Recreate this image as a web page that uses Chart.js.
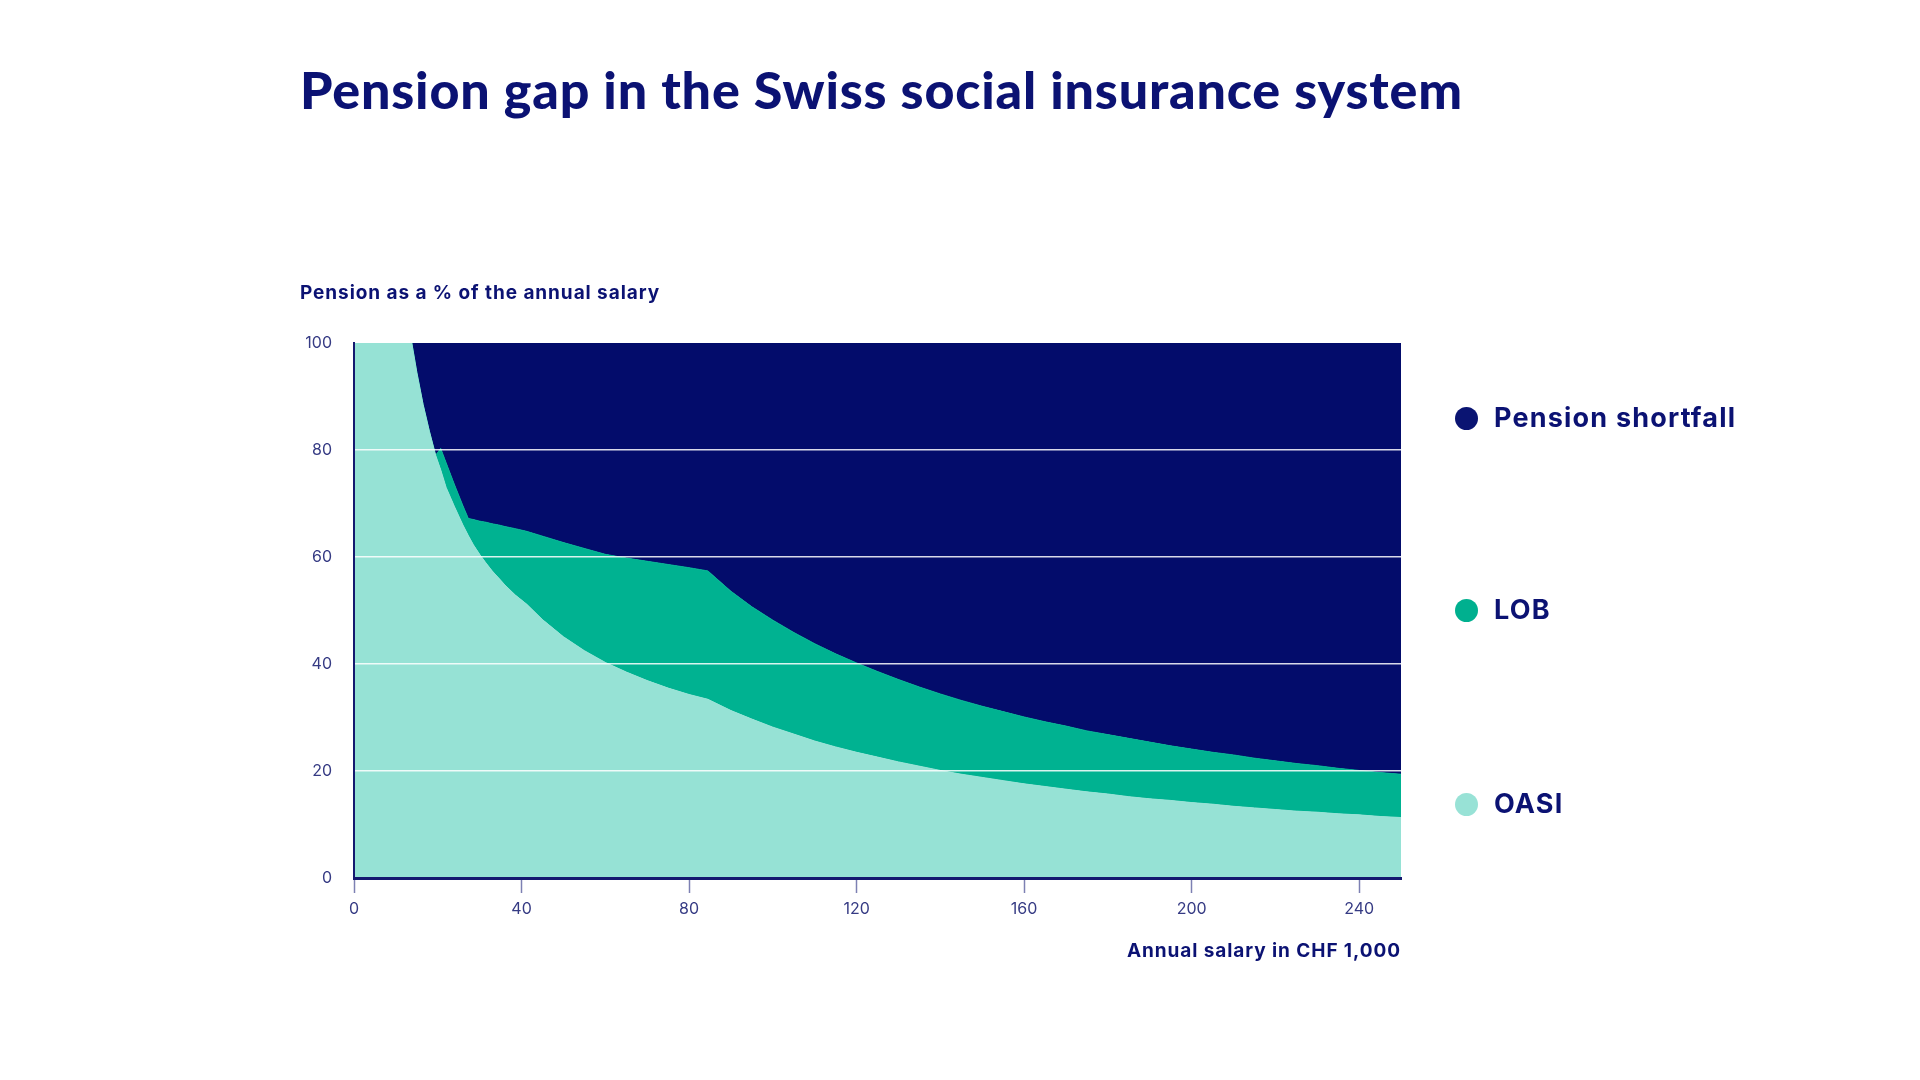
<!DOCTYPE html>
<html>
<head>
<meta charset="utf-8">
<script src="https://cdn.jsdelivr.net/npm/chart.js@4/dist/chart.umd.min.js"></script>
<style>
  html, body { margin:0; padding:0; background:#ffffff; width:1920px; height:1080px; overflow:hidden; font-family:Inter, Lato, sans-serif; }
  #wrap { position:absolute; left:0; top:0; width:1920px; height:1080px; }
  #title { position:absolute; left:300px; top:63px; margin:0; font-family:Lato, sans-serif; font-size:52px; font-weight:900; color:#0b1273; white-space:nowrap; line-height:1; }
  #ytitle { position:absolute; left:300px; top:283px; font-size:19px; font-weight:700; color:#0b1273; white-space:nowrap; line-height:1; }
  #xtitle { position:absolute; left:1127px; top:941px; font-size:19px; font-weight:700; color:#0b1273; white-space:nowrap; line-height:1; }
  .item { position:absolute; left:1455px; height:34px; line-height:34px; display:flex; align-items:center; white-space:nowrap; font-size:27px; font-weight:700; color:#0b1273; }
  .dot { width:23px; height:23px; border-radius:50%; margin-right:16px; flex:none; }
</style>
</head>
<body>
<div id="wrap"><canvas id="chart" width="1920" height="1080"></canvas></div>
<h1 id="title">Pension gap in the Swiss social insurance system</h1>
<div id="ytitle">Pension as a % of the annual salary</div>
<div id="xtitle">Annual salary in CHF 1,000</div>
<div id="legend"></div>
<script>
// Annual salary in CHF 1,000
const salary = [0, 13.8, 15, 16.5, 18, 19.5, 20.7, 22, 24, 26, 27.3, 28.5, 30, 31.5, 33, 34.5, 36, 38.5, 41.2,
  45, 50, 55, 60, 65, 70, 75, 80, 84.5,
  90, 95, 100, 105, 110, 115, 120, 125, 130, 135, 140, 145, 150, 155, 160, 165, 170, 175,
  180, 185, 190, 195, 200, 205, 210, 215, 220, 225, 230, 235, 240, 245, 250];
// OASI pension as % of salary
const oasi = [100, 100, 94.5, 88.5, 83.5, 79.0, 76.3, 73.0, 69.4, 66.0, 64.0, 62.3, 60.5, 58.9, 57.4, 56.1, 54.8, 52.9, 51.2,
  48.3, 45.1, 42.5, 40.3, 38.5, 36.9, 35.5, 34.3, 33.4,
  31.3, 29.7, 28.2, 26.9, 25.6, 24.5, 23.5, 22.6, 21.7, 20.9, 20.1, 19.4, 18.8, 18.2, 17.6, 17.1, 16.6, 16.1,
  15.7, 15.2, 14.8, 14.5, 14.1, 13.8, 13.4, 13.1, 12.8, 12.5, 12.3, 12.0, 11.8, 11.5, 11.3];
// LOB pension as % of salary (on top of OASI)
const lob = [0, 0, 0, 0, 0, 0, 4.0, 4.6, 4.1, 3.6, 3.2, 4.7, 6.2, 7.6, 8.8, 9.9, 10.9, 12.4, 13.6,
  15.6, 17.6, 19.1, 20.2, 21.3, 22.3, 23.1, 23.7, 24.0,
  22.3, 21.0, 20.0, 19.0, 18.2, 17.4, 16.7, 16.0, 15.4, 14.8, 14.3, 13.8, 13.3, 12.9, 12.5, 12.1, 11.8, 11.4,
  11.1, 10.9, 10.6, 10.2, 10.0, 9.7, 9.6, 9.3, 9.1, 8.9, 8.7, 8.5, 8.3, 8.2, 8.1];
// Remaining gap up to 100 %
const shortfall = salary.map((s, i) => +(100 - oasi[i] - lob[i]).toFixed(2));

const xTicks = [0, 40, 80, 120, 160, 200, 240];
const yTicks = [0, 20, 40, 60, 80, 100];
const seriesNames = ['OASI', 'LOB', 'Pension shortfall'];
const seriesColors = ['#96e2d5', '#00b291', '#030c6b'];
const legendDots = ['#98e2d6', '#00b08f', '#0a1472'];

const series = [oasi, lob, shortfall];
const datasets = series.map((vals, k) => ({
  label: seriesNames[k],
  data: salary.map((s, i) => ({ x: s, y: vals[i] })),
  backgroundColor: seriesColors[k],
  borderColor: seriesColors[k],
  borderWidth: 1,
  pointRadius: 0,
  tension: 0,
  fill: k === 0 ? 'origin' : '-1'
}));

const tickFont = { family: 'Inter', size: 16, weight: 400 };
new Chart(document.getElementById('chart'), {
  type: 'line',
  data: { datasets },
  options: {
    responsive: false,
    animation: false,
    events: [],
    layout: { padding: { left: 300, top: 343, right: 519, bottom: 142 } },
    plugins: { legend: { display: false }, tooltip: { enabled: false }, title: { display: false } },
    scales: {
      x: {
        type: 'linear', min: 0, max: 250,
        afterFit(s) { s.height = 60; },
        afterBuildTicks(s) { s.ticks = xTicks.map(v => ({ value: v })); },
        grid: { drawOnChartArea: false, drawTicks: true, tickLength: 15, tickColor: '#7d80b3', tickWidth: 1.5 },
        border: { display: true, color: '#14196f', width: 3, z: 1 },
        ticks: { padding: 7, color: '#363b84', font: tickFont, maxRotation: 0 }
      },
      y: {
        stacked: true, min: 0, max: 100,
        afterFit(s) { s.width = 54; },
        afterBuildTicks(s) { s.ticks = yTicks.map(v => ({ value: v })); },
        grid: {
          z: 1, drawTicks: false, lineWidth: 1.5,
          color: ctx => (ctx.tick && ctx.tick.value > 0 && ctx.tick.value < 100) ? 'rgba(255,255,255,0.85)' : 'rgba(0,0,0,0)'
        },
        border: { display: true, color: '#14196f', width: 2, z: 1 },
        ticks: { padding: 22, color: '#363b84', font: tickFont }
      }
    }
  }
});

// Legend (top to bottom: shortfall, LOB, OASI)
const legendCenters = [418, 610, 804];
const legend = document.getElementById('legend');
const legendTexts = [];
[2, 1, 0].forEach((k, row) => {
  const it = document.createElement('div');
  it.className = 'item';
  it.style.top = (legendCenters[row] - 17) + 'px';
  const d = document.createElement('span');
  d.className = 'dot';
  d.style.background = legendDots[k];
  const t = document.createElement('span');
  t.textContent = seriesNames[k];
  it.appendChild(d); it.appendChild(t);
  legend.appendChild(it);
  legendTexts.push(t);
});

// fit text widths to the reference via letter spacing
function fitSpacing(el, target) {
  const w = el.getBoundingClientRect().width;
  const ls = (target - w) / (el.textContent.length - 1);
  el.style.letterSpacing = ls.toFixed(2) + 'px';
  return ls;
}
fitSpacing(document.getElementById('title'), 1162);
fitSpacing(document.getElementById('ytitle'), 359);
fitSpacing(document.getElementById('xtitle'), 273);
const ls = fitSpacing(legendTexts[0], 241);
legendTexts[1].style.letterSpacing = ls.toFixed(2) + 'px';
legendTexts[2].style.letterSpacing = ls.toFixed(2) + 'px';
</script>
</body>
</html>
